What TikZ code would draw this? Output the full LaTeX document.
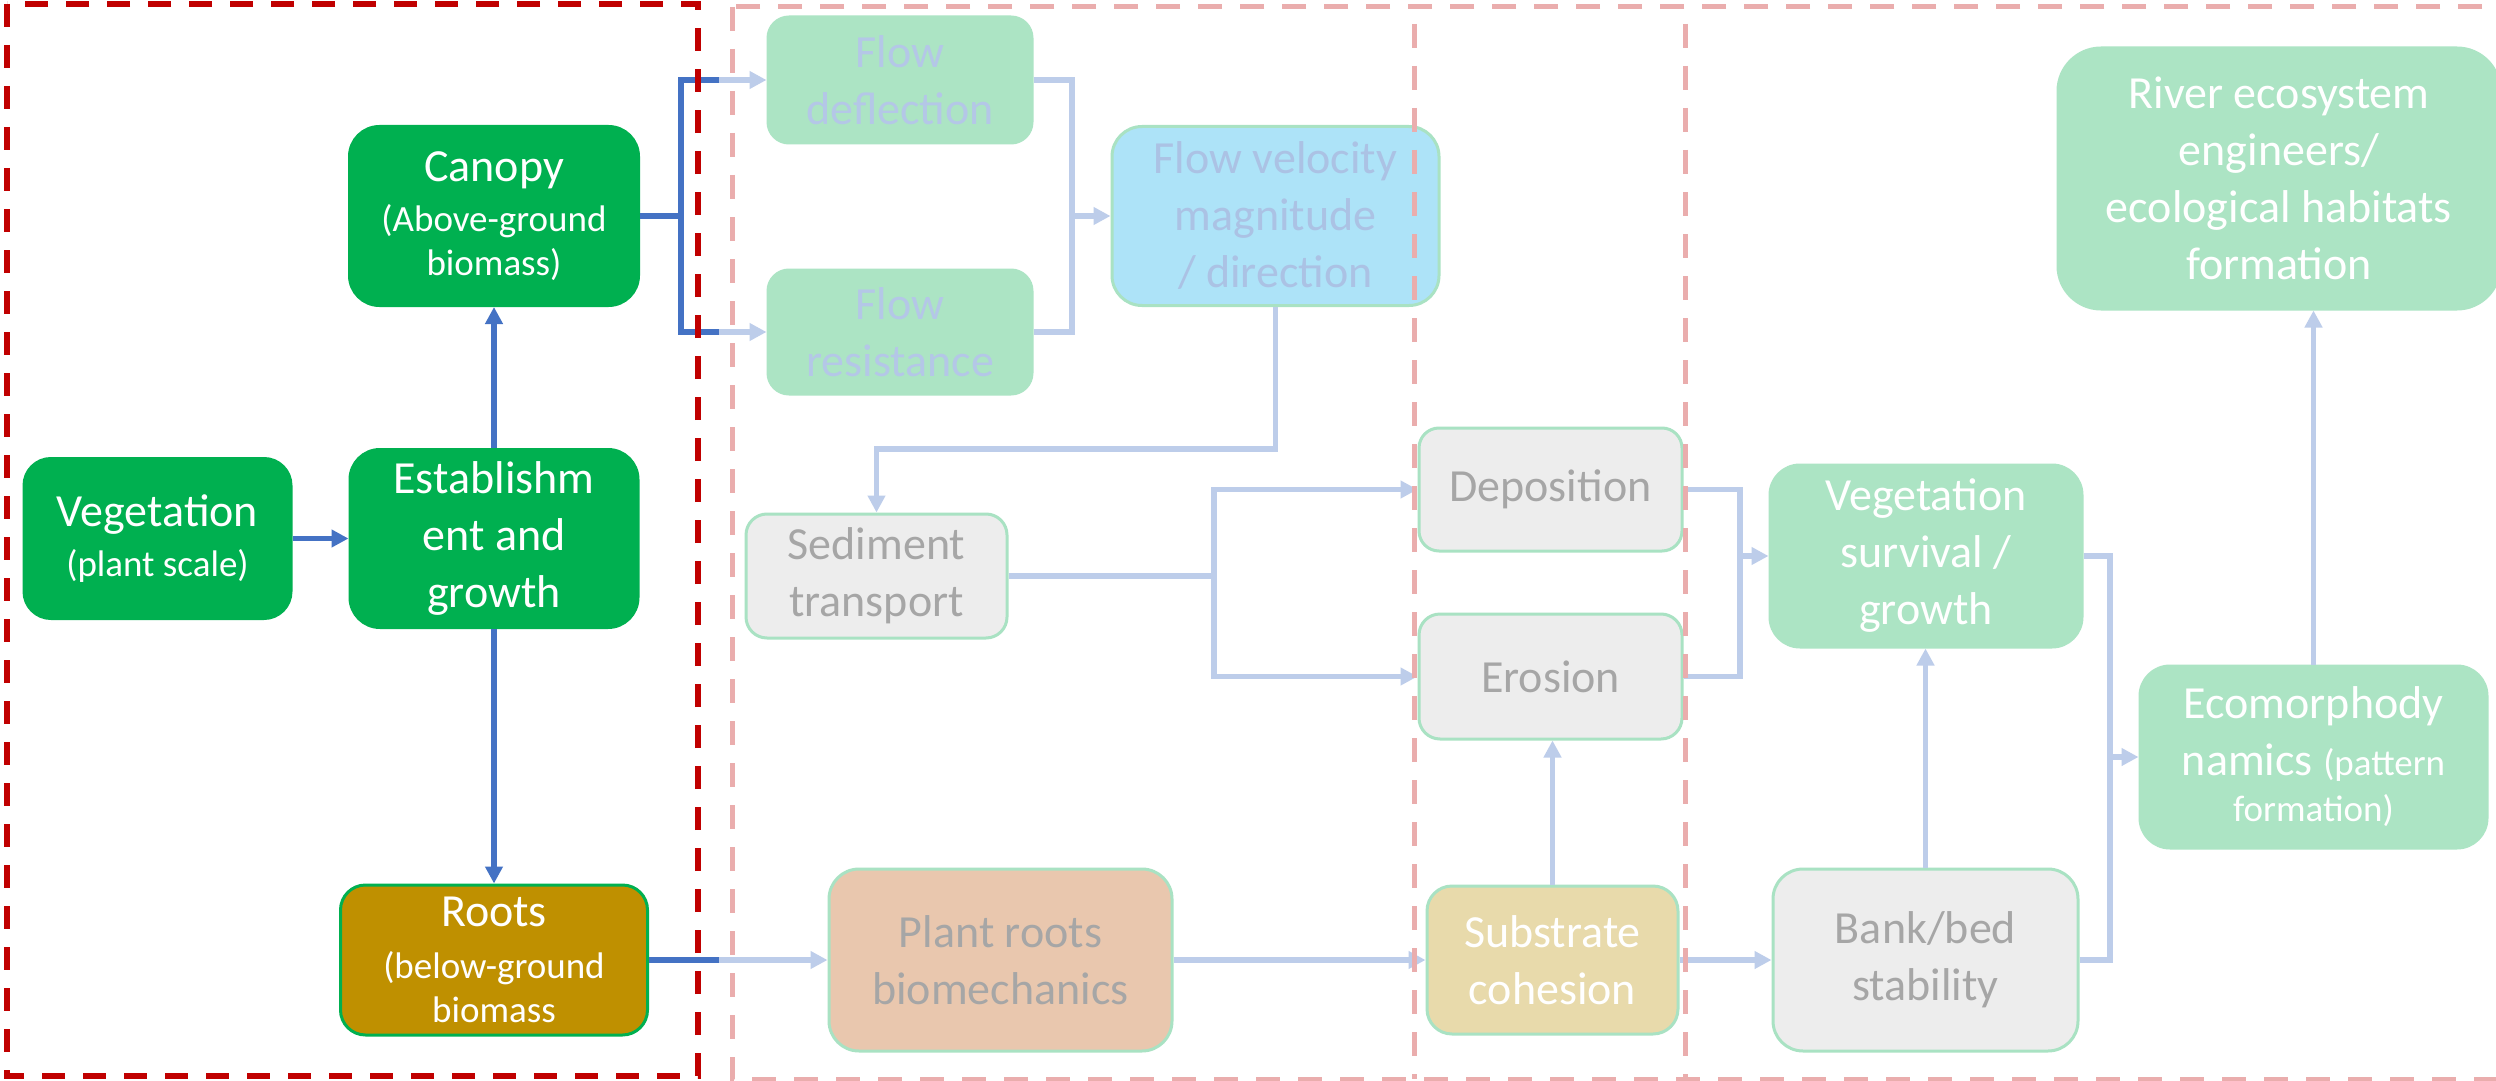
\documentclass[tikz,border=0pt]{standalone}
\usepackage{fontspec}
\setmainfont{Carlito}
\usetikzlibrary{arrows.meta}
\definecolor{dg}{HTML}{00B050}
\definecolor{lg}{HTML}{ACE4C4}
\definecolor{lgb}{HTML}{A9E2C3}
\definecolor{olive}{HTML}{BF9000}
\definecolor{skyb}{HTML}{ADE3F8}
\definecolor{greyf}{HTML}{EDEDED}
\definecolor{greyt}{HTML}{A6A6A6}
\definecolor{peach}{HTML}{E9C7AE}
\definecolor{sand}{HTML}{E8DAAB}
\definecolor{paleb}{HTML}{B4C7E7}
\definecolor{fvt}{HTML}{ABC2E4}
\definecolor{dkb}{HTML}{4472C4}
\definecolor{ltb}{HTML}{BDCDEA}
\definecolor{redd}{HTML}{C00000}
\definecolor{pinkd}{HTML}{EAADAD}
\newcommand\ftA{\fontsize{23}{28.5}\selectfont}
\newcommand\ftB{\fontsize{18.5}{22}\selectfont}
\begin{document}
\begin{tikzpicture}[x=0.5pt,y=-0.5pt,
  bx/.style={rectangle, align=center, inner sep=0pt, line width=1.5pt, font=\ftA},
  dgbox/.style={bx, fill=dg, draw=dg, text=white},
  lgbox/.style={bx, fill=lg, draw=lg, text=white},
  gybox/.style={bx, fill=greyf, draw=lgb, text=greyt},
  arr/.style={-{Triangle[length=8.5pt,width=8.5pt]}},
  dk/.style={draw=dkb, line width=2.8pt},
  lt/.style={draw=ltb, line width=2.8pt},
  reddash/.style={draw=redd, line width=3pt, dash pattern=on 11.5pt off 9pt},
  pinkdash/.style={draw=pinkd, line width=2.5pt, dash pattern=on 12pt off 9pt}]
\useasboundingbox (0,0) rectangle (2496,1081);
\fill[white] (0,0) rectangle (2496,1081);

% left group
\node[dgbox, minimum width=133.5pt, minimum height=80pt, rounded corners=13.5pt] (veg) at (157.5,538.5)
  {Vegetation\\[-3.5pt]{\ftB (plant scale)}};
\node[dgbox, minimum width=144pt, minimum height=89pt, rounded corners=15pt] (est) at (494,538.5)
  {Establishm\\ent and\\growth};
\node[dgbox, minimum width=144.5pt, minimum height=89.5pt, rounded corners=15pt] (can) at (494,216)
  {Canopy\\[-3.5pt]{\ftB (Above-ground}\\[-6.5pt]{\ftB biomass)}};
\node[bx, fill=olive, draw=dg, text=white, minimum width=153.5pt, minimum height=75pt, rounded corners=12.5pt] (roots) at (494,960)
  {Roots\\[-2.5pt]{\ftB (below-ground}\\[-6.5pt]{\ftB biomass}};

% flow group
\node[lgbox, text=paleb, minimum width=132pt, minimum height=63pt, rounded corners=10.5pt] (defl) at (900,80)
  {Flow\\deflection};
\node[lgbox, text=paleb, minimum width=132pt, minimum height=62pt, rounded corners=10.5pt] (res) at (900,332)
  {Flow\\resistance};
\node[bx, fill=skyb, draw=lgb, text=fvt, minimum width=163.5pt, minimum height=89.5pt, rounded corners=15pt] (fv) at (1275.5,216)
  {Flow velocity\\magnitude\\/ direction};
\node[gybox, minimum width=130.5pt, minimum height=62pt, rounded corners=10.5pt] (sed) at (876.5,576)
  {Sediment\\transport};
\node[gybox, minimum width=131.5pt, minimum height=61.5pt, rounded corners=10pt] (dep) at (1550.5,489.5)
  {Deposition};
\node[gybox, minimum width=131.5pt, minimum height=62.5pt, rounded corners=10.5pt] (ero) at (1550.5,676.5)
  {Erosion};
\node[bx, fill=peach, draw=lgb, text=greyt, minimum width=171.5pt, minimum height=91pt, rounded corners=15pt] (prb) at (1000.5,960)
  {Plant roots\\biomechanics};
\node[bx, fill=sand, draw=lgb, text=white, minimum width=125.5pt, minimum height=74pt, rounded corners=12.5pt] (sub) at (1552.5,960)
  {Substrate\\cohesion};

% right group
\node[lgbox, minimum width=156pt, minimum height=91pt, rounded corners=15pt] (vs) at (1926,556)
  {Vegetation\\survival /\\growth};
\node[gybox, minimum width=152.5pt, minimum height=91pt, rounded corners=15pt] (bank) at (1925.5,960)
  {Bank/bed\\stability};
\node[lgbox, minimum width=173.5pt, minimum height=91pt, rounded corners=15pt] (eco) at (2313.5,757)
  {Ecomorphody\\namics {\ftB (pattern}\\[-5.5pt]{\ftB formation)}};
\node[lgbox, minimum width=221pt, minimum height=130.5pt, rounded corners=21.5pt] (river) at (2279,178.5)
  {River ecosystem\\engineers/\\ecological habitats\\formation};

% dark connectors
\draw[dk,arr] (veg.east) -- (est.west);
\draw[dk,arr] (est.north) -- (can.south);
\draw[dk,arr] (est.south) -- (roots.north);
\coordinate (cd1) at (719,80);
\coordinate (cd2) at (719,332);
\coordinate (rr) at (719,960);
\draw[dk] (can.east) -| (681,80) -- (cd1);
\draw[dk] (can.east) -| (681,332) -- (cd2);
\draw[dk] (roots.east) -- (rr);

% light connectors
\draw[lt,arr] (cd1) -- (defl.west);
\draw[lt,arr] (cd2) -- (res.west);
\draw[lt,arr] (rr) -- (prb.west);
\coordinate (jf) at (1072,216);
\draw[lt] (defl.east) -| (jf);
\draw[lt] (res.east) -| (jf);
\draw[lt,arr] (jf) -- (fv.west);
\coordinate (j2) at (876.5,449);
\draw[lt,arr] (fv.south) |- (j2) -- (sed.north);
\coordinate (js) at (1214,576);
\draw[lt] (sed.east) -- (js);
\draw[lt,arr] (js) |- (dep.west);
\draw[lt,arr] (js) |- (ero.west);
\draw[lt,arr] (sub.north) -- (sub.north |- ero.south);
\draw[lt,arr] (prb.east) -- (sub.west);
\draw[lt,arr] (sub.east) -- (bank.west);
\coordinate (jv) at (1740,556);
\draw[lt] (dep.east) -| (jv);
\draw[lt] (ero.east) -| (jv);
\draw[lt,arr] (jv) -- (vs.west);
\draw[lt,arr] (bank.north) -- (bank.north |- vs.south);
\coordinate (je) at (2110,757);
\draw[lt] (vs.east) -| (je);
\draw[lt] (bank.east) -| (je);
\draw[lt,arr] (je) -- (eco.west);
\draw[lt,arr] (eco.north) -- (eco.north |- river.south);

% dashed frames
\draw[pinkdash] (732,7) rectangle (2530,1079);
\draw[pinkdash] (1414,24) -- (1414,1079);
\draw[pinkdash] (1685,24) -- (1685,1079);
\draw[reddash] (7,4) rectangle (698,1076);
\end{tikzpicture}
\end{document}
